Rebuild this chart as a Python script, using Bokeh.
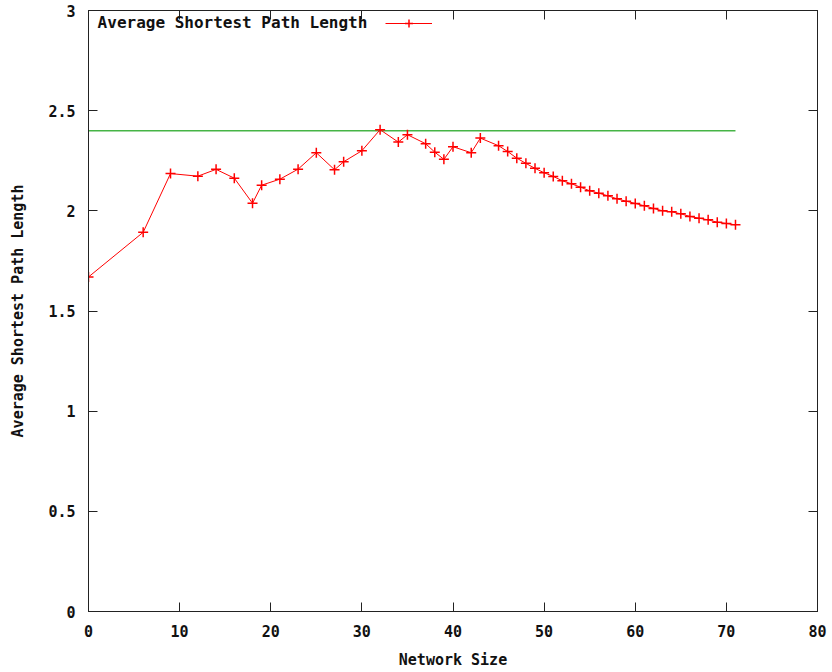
from bokeh.plotting import figure
from bokeh.models import (Range1d, FixedTicker, LinearAxis, CustomJSTickFormatter,
                          Legend, LegendItem, Label)
from bokeh.embed import file_html
from bokeh.resources import INLINE

# Network size vs. average shortest path length
network_size = [0, 6, 9, 12, 14, 16, 18, 19, 21, 23, 25, 27, 28, 30, 32, 34, 35,
                37, 38, 39, 40, 42, 43, 45, 46, 47, 48, 49, 50, 51, 52, 53, 54,
                55, 56, 57, 58, 59, 60, 61, 62, 63, 64, 65, 66, 67, 68, 69, 70, 71]
avg_path_length = [1.67, 1.893, 2.186, 2.173, 2.207, 2.163, 2.038, 2.128, 2.158,
                   2.208, 2.29, 2.205, 2.245, 2.30, 2.405, 2.343, 2.38, 2.335,
                   2.293, 2.257, 2.32, 2.29, 2.363, 2.325, 2.296, 2.263, 2.237,
                   2.212, 2.19, 2.172, 2.15, 2.135, 2.118, 2.10, 2.088, 2.075,
                   2.06, 2.048, 2.037, 2.025, 2.012, 2.0, 1.995, 1.985, 1.972,
                   1.963, 1.955, 1.943, 1.937, 1.93]
reference_level = 2.4

x_ticks = [0, 10, 20, 30, 40, 50, 60, 70, 80]
y_ticks = [0, 0.5, 1, 1.5, 2, 2.5, 3]

FONT = "DejaVu Sans Mono"
RED = "#ff0000"
GREEN = "#46b446"

p = figure(width=832, height=672, output_backend="svg", toolbar_location=None,
           x_range=Range1d(0, 80), y_range=Range1d(0, 3),
           min_border_left=88, min_border_right=15, min_border_top=10,
           min_border_bottom=61, x_axis_label="Network Size",
           y_axis_label="Average Shortest Path Length")
p.grid.visible = False
p.outline_line_color = "#222222"
p.outline_line_width = 1
p.background_fill_color = "white"
p.border_fill_color = "white"

tick_fmt = CustomJSTickFormatter(code="return String(tick);")

def style_axis(ax, ticks, labels=True):
    ax.ticker = FixedTicker(ticks=ticks)
    ax.major_tick_in = 9
    ax.major_tick_out = 0
    ax.minor_tick_line_color = None
    ax.axis_line_color = "#222222"
    ax.major_tick_line_color = "#222222"
    ax.major_label_text_font = FONT
    ax.major_label_text_font_style = "bold"
    ax.major_label_text_font_size = "15px" if labels else "1px"
    ax.major_label_text_color = "#111111" if labels else None
    ax.major_label_standoff = 13 if labels else 0
    ax.axis_label_text_font = FONT
    ax.axis_label_text_font_style = "bold"
    ax.axis_label_text_font_size = "15px"
    ax.axis_label_text_color = "#111111"
    ax.formatter = tick_fmt

style_axis(p.xaxis[0], x_ticks)
style_axis(p.yaxis[0], y_ticks)
p.xaxis[0].axis_label_standoff = 11
p.yaxis[0].axis_label_standoff = 18

# mirrored ticks on the top and right edges
top_axis = LinearAxis()
style_axis(top_axis, x_ticks, labels=False)
p.add_layout(top_axis, "above")
right_axis = LinearAxis()
style_axis(right_axis, y_ticks, labels=False)
p.add_layout(right_axis, "right")

# reference level
p.line(x=[network_size[0], network_size[-1]], y=[reference_level, reference_level],
       line_color=GREEN, line_width=1.5)

# measured series
series_line = p.line(network_size, avg_path_length, line_color=RED, line_width=1)
series_pts = p.scatter(network_size, avg_path_length, marker="cross", size=10,
                       line_color=RED, line_width=1.5)

# key: text followed by the line sample
p.add_layout(Label(x=1.0, y=2.94, text="Average Shortest Path Length",
                   text_font=FONT, text_font_style="bold", text_font_size="16px",
                   text_color="#111111", text_baseline="middle", text_align="left"))
legend = Legend(items=[LegendItem(label=" ", renderers=[series_line, series_pts])],
                location=(297, 578), glyph_width=47, glyph_height=20,
                padding=0, margin=0, spacing=0, label_standoff=0,
                label_width=0, border_line_alpha=0, background_fill_alpha=0,
                label_text_font_size="1px")
p.add_layout(legend)

open("out.html", "w").write(file_html(p, INLINE))
